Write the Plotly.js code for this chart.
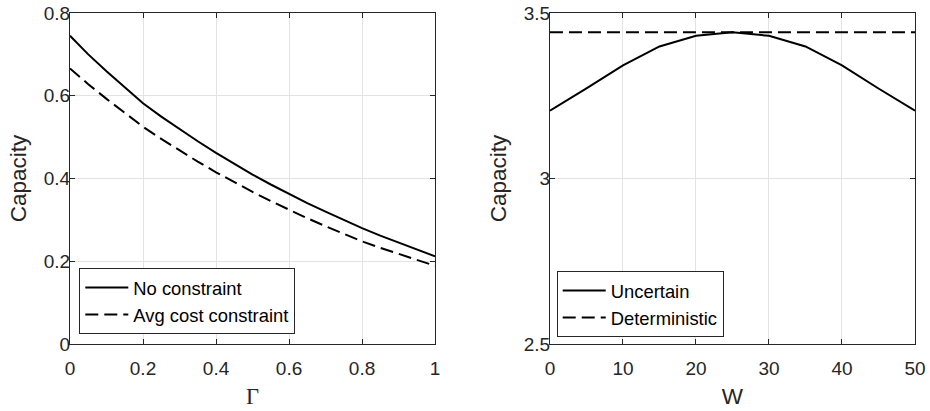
<!DOCTYPE html>
<html>
<head>
<meta charset="utf-8">
<script src="https://cdn.plot.ly/plotly-3.0.1.min.js"></script>
<style>html,body{margin:0;padding:0;background:#fff;}#plot{width:930px;height:411px;}</style>
</head>
<body>
<div id="plot"></div>
<script>
// Left panel data
const gamma = [0, 0.05, 0.1, 0.15, 0.2, 0.25, 0.3, 0.35, 0.4, 0.45, 0.5, 0.55, 0.6, 0.65, 0.7, 0.75, 0.8, 0.85, 0.9, 0.95, 1.0];
const noConstraint = [0.745, 0.700, 0.659, 0.620, 0.582, 0.5495, 0.519, 0.490, 0.462, 0.435, 0.4095, 0.3855, 0.362, 0.3405, 0.3197, 0.2997, 0.280, 0.262, 0.2448, 0.2282, 0.212];
const avgCost = [0.666, 0.628, 0.5925, 0.558, 0.525, 0.4957, 0.4677, 0.4408, 0.415, 0.3909, 0.3677, 0.3454, 0.324, 0.304, 0.2847, 0.266, 0.248, 0.2324, 0.2174, 0.2029, 0.189];
// Right panel data
const W = [0, 5, 10, 15, 20, 25, 30, 35, 40, 45, 50];
const uncertain = [3.205, 3.272, 3.342, 3.399, 3.431, 3.442, 3.431, 3.399, 3.342, 3.272, 3.205];
const deterministic = [3.442, 3.442, 3.442, 3.442, 3.442, 3.442, 3.442, 3.442, 3.442, 3.442, 3.442];
const leftTicksX = [0, 0.2, 0.4, 0.6, 0.8, 1];
const leftTicksY = [0, 0.2, 0.4, 0.6, 0.8];
const rightTicksX = [0, 10, 20, 30, 40, 50];
const rightTicksY = [2.5, 3, 3.5];

const sans = "Liberation Sans, Arial, sans-serif";
const tickFont = {family: sans, size: 19, color: "#262626"};
const labelFont = {family: sans, size: 22.5, color: "#262626"};
const dash = "13px,6px";

const traces = [
  {x: gamma, y: noConstraint, name: "No constraint", type: "scatter", mode: "lines", line: {color: "#000", width: 2}, xaxis: "x", yaxis: "y", legend: "legend"},
  {x: gamma, y: avgCost, name: "Avg cost constraint", type: "scatter", mode: "lines", line: {color: "#000", width: 2, dash: dash}, xaxis: "x", yaxis: "y", legend: "legend"},
  {x: W, y: uncertain, name: "Uncertain", type: "scatter", mode: "lines", line: {color: "#000", width: 2}, xaxis: "x2", yaxis: "y2", legend: "legend2"},
  {x: W, y: deterministic, name: "Deterministic", type: "scatter", mode: "lines", line: {color: "#000", width: 2, dash: dash}, xaxis: "x2", yaxis: "y2", legend: "legend2"}
];

const axisCommon = {
  showline: true, linecolor: "#262626", linewidth: 1, mirror: "ticks",
  ticks: "inside", ticklen: 5, tickcolor: "#262626", tickwidth: 1,
  showgrid: true, gridcolor: "#e3e3e3", gridwidth: 1, zeroline: false,
  tickfont: tickFont
};
const xCommon = Object.assign({}, axisCommon, {ticklabelstandoff: 7});
const yCommon = Object.assign({}, axisCommon, {ticklabelstandoff: -5});

const legendCommon = {
  bgcolor: "#fff", bordercolor: "#262626", borderwidth: 1,
  font: {family: sans, size: 18.4, color: "#000"},
  xanchor: "left", yanchor: "bottom", tracegroupgap: 0, itemwidth: 43
};

const layout = {
  width: 930, height: 411,
  margin: {l: 70, r: 15, t: 13, b: 67},
  paper_bgcolor: "#fff", plot_bgcolor: "#fff",
  showlegend: true,
  xaxis: Object.assign({}, xCommon, {domain: [0, 0.432], range: [0, 1], tickvals: leftTicksX, ticktext: leftTicksX.map(String), anchor: "y",
    title: {text: "Γ", font: {family: "Liberation Serif, Times New Roman, serif", size: 22.5, color: "#262626"}, standoff: 10}}),
  yaxis: Object.assign({}, yCommon, {domain: [0, 1], range: [0, 0.8], tickvals: leftTicksY, ticktext: leftTicksY.map(String), anchor: "x",
    title: {text: "Capacity", font: labelFont, standoff: 10}}),
  xaxis2: Object.assign({}, xCommon, {domain: [0.568, 1], range: [0, 50], tickvals: rightTicksX, ticktext: rightTicksX.map(String), anchor: "y2",
    title: {text: "W", font: labelFont, standoff: 10}}),
  yaxis2: Object.assign({}, yCommon, {domain: [0, 1], range: [2.5, 3.5], tickvals: rightTicksY, ticktext: rightTicksY.map(String), anchor: "x2",
    title: {text: "Capacity", font: labelFont, standoff: 10}}),
  legend: Object.assign({}, legendCommon, {x: 0.011, y: 0.03}),
  legend2: Object.assign({}, legendCommon, {x: 0.576, y: 0.021})
};

Plotly.newPlot("plot", traces, layout, {staticPlot: true, displayModeBar: false});
</script>
</body>
</html>
